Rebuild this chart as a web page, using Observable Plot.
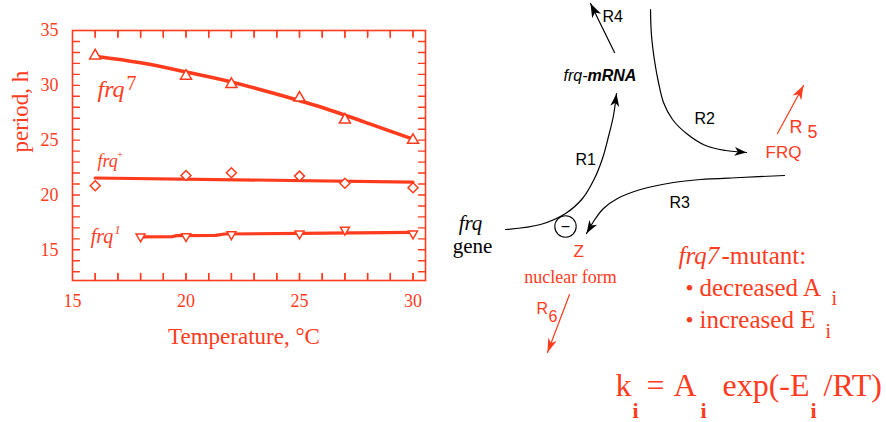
<!DOCTYPE html>
<html><head><meta charset="utf-8">
<script src="https://cdn.jsdelivr.net/npm/d3@7"></script>
<script src="https://cdn.jsdelivr.net/npm/@observablehq/plot@0.6"></script>
<style>
body{margin:0;background:#fff;}
#wrap{position:relative;width:886px;height:422px;overflow:hidden;background:#fff;}
#wrap svg{position:absolute;left:0;top:0;overflow:visible;}
</style></head><body><div id="wrap"></div>
<script>
// ---------- chart data ----------
const tempFrq7 = [16, 20, 22, 25, 27, 30];
const periodFrq7 = [32.7, 30.85, 30.1, 28.85, 26.85, 25.0];
const tempFrqPlus = [16, 20, 22, 25, 27, 30];
const periodFrqPlus = [20.84, 21.78, 22.03, 21.72, 21.07, 20.66];
const tempFrq1 = [18, 20, 22, 25, 27, 30];
const periodFrq1 = [16.2, 16.22, 16.4, 16.47, 16.82, 16.47];

const fitTempFrq7 = [16, 18, 20, 22, 24, 26, 28, 30];
const fitPeriodFrq7 = [32.65, 32.05, 31.22, 30.31, 29.19, 27.97, 26.55, 25.09];
const fitTempFrqPlus = [16, 30];
const fitPeriodFrqPlus = [21.55, 21.18];
const fitTempFrq1 = [18, 19.4, 19.6, 21.3, 21.7, 25, 30];
const fitPeriodFrq1 = [16.18, 16.2, 16.3, 16.32, 16.44, 16.5, 16.58];

const xTicks = [15, 20, 25, 30];
const yTicks = [15, 20, 25, 30, 35];
const xMinor = [16, 17, 18, 19, 20, 21, 22, 23, 24, 25, 26, 27, 28, 29, 30];
const yMinor = [13, 14, 15, 16, 17, 18, 19, 20, 21, 22, 23, 24, 25, 26, 27, 28, 29, 30, 31, 32, 33, 34];
const xLabel = "Temperature, °C";
const yLabel = "period, h";

// ---------- diagram data (pixel layout of the scheme) ----------
const pathR1 = [[505,229],[540,224],[565,213],[582,198],[594,178],[602,158],[608,136],[613,115],[616,93]];
const pathR2 = [[650,9],[651,35],[654,60],[658,82],[663,102],[672,119],[686,133],[705,145],[725,150],[746,152]];
const pathR3 = [[784,175],[740,177],[700,179],[673,182],[640,189],[617,198],[603,208],[595,218],[586,233]];
const pathR4 = [[614,52],[590,3]];
const pathR5 = [[777,133],[803,85]];
const pathR6 = [[569,294],[547,352]];

const RED = "#ff3b1d";
const SERIF = "'Liberation Serif','Times New Roman',serif";
const SANS = "'Liberation Sans',Arial,Helvetica,sans-serif";

const pts = (xs, ys) => xs.map((x, i) => ({x, y: ys[i]}));

const triDown = {
  draw(ctx, size) {
    const s = Math.sqrt(size) * 0.6824, t = s / 2, u = s * Math.sqrt(3) / 2;
    ctx.moveTo(0, s); ctx.lineTo(u, -t); ctx.lineTo(-u, -t); ctx.closePath();
  }
};

// ---------- chart ----------
const CW = 440, CH = 360, ML = 72, MR = 15, MT = 30, MB = 80;
const xDom = [15, 30.55], yDom = [12.2, 35];
const innerW = CW - ML - MR, innerH = CH - MT - MB, TICK = 7;
const tx = TICK * (xDom[1] - xDom[0]) / innerW;   // tick length in x units
const ty = TICK * (yDom[1] - yDom[0]) / innerH;   // tick length in y units

// inward minor tick segments (two ends each), drawn as grouped lines
const tickSeg = [];
xMinor.forEach((v, i) => {
  tickSeg.push({x: v, y: yDom[0], k: "b" + i}, {x: v, y: yDom[0] + ty, k: "b" + i});
  tickSeg.push({x: v, y: yDom[1], k: "t" + i}, {x: v, y: yDom[1] - ty, k: "t" + i});
});
yMinor.forEach((v, i) => {
  tickSeg.push({x: xDom[0], y: v, k: "l" + i}, {x: xDom[0] + tx, y: v, k: "l" + i});
  tickSeg.push({x: xDom[1], y: v, k: "r" + i}, {x: xDom[1] - tx, y: v, k: "r" + i});
});

const chart = Plot.plot({
  width: CW, height: CH,
  marginLeft: ML, marginRight: MR, marginTop: MT, marginBottom: MB,
  x: {domain: xDom},
  y: {domain: yDom},
  style: {fontFamily: SERIF, color: RED, background: "transparent"},
  marks: [
    Plot.axisX(xTicks, {anchor: "bottom", tickSize: 0, tickPadding: 14, fontSize: 18, label: null, fill: RED}),
    Plot.axisY(yTicks, {anchor: "left", tickSize: 0, tickPadding: 14, fontSize: 18, label: null, fill: RED}),
    Plot.text([xLabel], {frameAnchor: "bottom", lineAnchor: "bottom", dy: 63, dx: -5, fontSize: 23, fill: RED}),
    Plot.text([yLabel], {frameAnchor: "left", rotate: -90, dx: -52, dy: -3, fontSize: 23, fill: RED}),

    Plot.line(pts(fitTempFrq7, fitPeriodFrq7), {x: "x", y: "y", stroke: RED, strokeWidth: 3.6, curve: "natural"}),
    Plot.line(pts(fitTempFrqPlus, fitPeriodFrqPlus), {x: "x", y: "y", stroke: RED, strokeWidth: 3.2}),
    Plot.line(pts(fitTempFrq1, fitPeriodFrq1), {x: "x", y: "y", stroke: RED, strokeWidth: 3.2}),

    Plot.dot(pts(tempFrq7, periodFrq7), {x: "x", y: "y", symbol: "triangle", r: 4.1, fill: "white", stroke: RED, strokeWidth: 1.5}),
    Plot.dot(pts(tempFrqPlus, periodFrqPlus), {x: "x", y: "y", symbol: "diamond2", r: 4.5, fill: "white", stroke: RED, strokeWidth: 1.5}),
    Plot.dot(pts(tempFrq1, periodFrq1), {x: "x", y: "y", symbol: triDown, r: 4.3, fill: "white", stroke: RED, strokeWidth: 1.5}),

    Plot.text(["frq"], {x: 16.1, y: 28.95, textAnchor: "start", lineAnchor: "bottom", fontSize: 24, fontStyle: "italic", fill: RED}),
    Plot.text(["7"], {x: 17.38, y: 29.6, textAnchor: "start", lineAnchor: "bottom", fontSize: 20, fill: RED}),
    Plot.text(["frq"], {x: 16.1, y: 22.57, textAnchor: "start", lineAnchor: "bottom", fontSize: 18, fontStyle: "italic", fill: RED}),
    Plot.text(["+"], {x: 16.97, y: 23.35, textAnchor: "start", lineAnchor: "bottom", fontSize: 10, fill: RED}),
    Plot.text(["frq"], {x: 15.8, y: 15.65, textAnchor: "start", lineAnchor: "bottom", fontSize: 20, fontStyle: "italic", fill: RED}),
    Plot.text(["1"], {x: 16.85, y: 16.45, textAnchor: "start", lineAnchor: "bottom", fontSize: 12, fontStyle: "italic", fill: RED}),

    Plot.line(tickSeg, {x: "x", y: "y", z: "k", stroke: RED, strokeWidth: 1.4}),
    Plot.ruleX(xMinor, {x: d => d, y1: yDom[0], y2: yDom[0] + ty, stroke: RED, strokeWidth: 1.4}),
    Plot.ruleX(xMinor, {x: d => d, y1: yDom[1] - ty, y2: yDom[1], stroke: RED, strokeWidth: 1.4}),
    Plot.frame({stroke: RED, strokeWidth: 1.6})
  ]
});

// ---------- diagram ----------
const head = (L, Wd) => ({
  draw(ctx) { ctx.moveTo(0, 0); ctx.lineTo(Wd, L); ctx.lineTo(0, L * 0.72); ctx.lineTo(-Wd, L); ctx.closePath(); }
});
const tipOf = (p) => {
  const a = p[p.length - 2], b = p[p.length - 1];
  return {x: b[0], y: b[1], angle: Math.atan2(b[0] - a[0], -(b[1] - a[1])) * 180 / Math.PI};
};
const curveMarks = (p, color, L, Wd, curve) => [
  Plot.line(p, {x: d => d[0], y: d => d[1], stroke: color, strokeWidth: 1.2, curve}),
  Plot.dot([tipOf(p)], {x: "x", y: "y", rotate: "angle", symbol: head(L, Wd), r: 5, fill: color, stroke: "none"})
];
const T = (s, x, y, o) => Plot.text([s], {x: () => x, y: () => y, textAnchor: "start", lineAnchor: "bottom", ...o});

const diagram = Plot.plot({
  width: 886, height: 422, margin: 0,
  x: {domain: [0, 886], range: [0, 886], axis: null},
  y: {domain: [0, 422], range: [0, 422], axis: null},
  style: {background: "transparent"},
  marks: [
    ...curveMarks(pathR1, "black", 13, 4.5, "catmull-rom"),
    ...curveMarks(pathR2, "black", 12, 4.5, "catmull-rom"),
    ...curveMarks(pathR3, "black", 13, 4.5, "catmull-rom"),
    ...curveMarks(pathR4, "black", 14, 5, "linear"),
    ...curveMarks(pathR5, RED, 14, 5, "linear"),
    ...curveMarks(pathR6, RED, 14, 4.5, "linear"),
    Plot.dot([[565, 226]], {x: d => d[0], y: d => d[1], r: 10.7, stroke: "black", strokeWidth: 1.1, fill: "none"}),
    Plot.text(["−"], {x: () => 565, y: () => 226, fontSize: 16, fontFamily: SANS, fill: "black"}),

    T("R4", 602, 21, {fontSize: 16, fontFamily: SANS, fill: "black"}),
    T("R2", 694, 123, {fontSize: 16, fontFamily: SANS, fill: "black"}),
    T("R1", 575, 164, {fontSize: 16, fontFamily: SANS, fill: "black"}),
    T("R3", 669, 207, {fontSize: 16, fontFamily: SANS, fill: "black"}),
    T("frq-", 563, 80, {fontSize: 16, fontFamily: SANS, fontStyle: "italic", fill: "black"}),
    T("mRNA", 587, 80, {fontSize: 16, fontFamily: SANS, fontStyle: "italic", fontWeight: "bold", fill: "black"}),
    T("FRQ", 765, 157, {fontSize: 17, fontFamily: SANS, fill: RED}),
    T("R", 789, 132, {fontSize: 18, fontFamily: SANS, fill: RED}),
    T("5", 807, 137, {fontSize: 18, fontFamily: SANS, fill: RED}),
    T("Z", 573, 256, {fontSize: 17, fontFamily: SANS, fill: RED}),
    T("R", 536, 313, {fontSize: 16, fontFamily: SANS, fill: RED}),
    T("6", 548, 321, {fontSize: 16, fontFamily: SANS, fill: RED}),

    Plot.text(["frq"], {x: () => 470, y: () => 229, lineAnchor: "bottom", fontSize: 21, fontFamily: SERIF, fontStyle: "italic", fill: "black"}),
    Plot.text(["gene"], {x: () => 472, y: () => 252, lineAnchor: "bottom", fontSize: 21, fontFamily: SERIF, fill: "black"}),
    Plot.text(["nuclear form"], {x: () => 570, y: () => 282, lineAnchor: "bottom", fontSize: 18, fontFamily: SERIF, fill: RED}),

    T("frq7", 678, 263, {fontSize: 25, fontFamily: SERIF, fontStyle: "italic", fill: RED}),
    T("-mutant:", 721, 263, {fontSize: 25, fontFamily: SERIF, fill: RED}),
    T("•", 685, 295, {fontSize: 23, fontFamily: SERIF, fill: RED}),
    T("decreased A", 699, 295, {fontSize: 25, fontFamily: SERIF, fill: RED}),
    T("i", 831, 304, {fontSize: 20, fontFamily: SERIF, fill: RED}),
    T("•", 685, 327, {fontSize: 23, fontFamily: SERIF, fill: RED}),
    T("increased E", 699, 327, {fontSize: 25, fontFamily: SERIF, fill: RED}),
    T("i", 825, 337, {fontSize: 20, fontFamily: SERIF, fill: RED}),

    T("k", 615, 395, {fontSize: 32, fontFamily: SERIF, fill: RED}),
    T("i", 632, 417, {fontSize: 22, fontFamily: SERIF, fontWeight: "bold", fill: RED}),
    T("=", 646, 395, {fontSize: 32, fontFamily: SERIF, fill: RED}),
    T("A", 673, 395, {fontSize: 32, fontFamily: SERIF, fill: RED}),
    T("i", 700, 417, {fontSize: 22, fontFamily: SERIF, fontWeight: "bold", fill: RED}),
    T("exp(-E", 722, 395, {fontSize: 32, fontFamily: SERIF, fill: RED}),
    T("i", 810, 417, {fontSize: 22, fontFamily: SERIF, fontWeight: "bold", fill: RED}),
    T("/RT)", 823, 395, {fontSize: 32, fontFamily: SERIF, fill: RED})
  ]
});

const wrap = document.getElementById("wrap");
wrap.appendChild(diagram);
wrap.appendChild(chart);
</script>
</body></html>
